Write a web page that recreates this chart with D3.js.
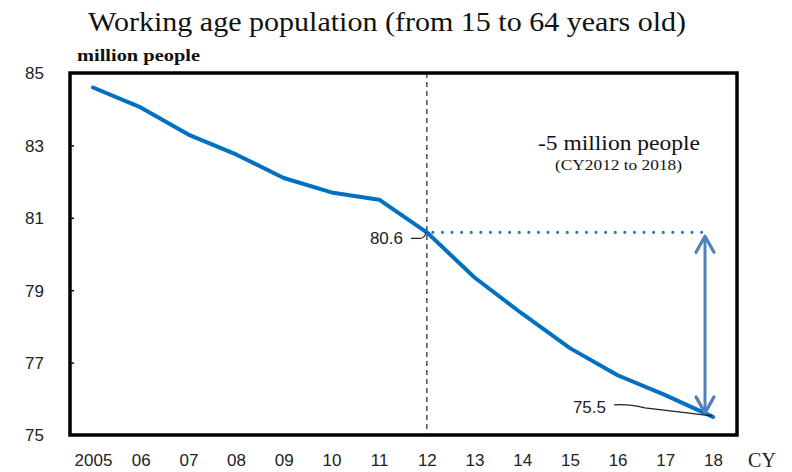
<!DOCTYPE html>
<html>
<head>
<meta charset="utf-8">
<script src="https://cdn.jsdelivr.net/npm/d3@7"></script>
<style>
  html, body { margin: 0; padding: 0; background: #fff; }
  svg { display: block; }
</style>
</head>
<body>
<svg id="chart" width="792" height="472"></svg>
<script>
// Working age population, Japan (million people)
const years = [2005, 2006, 2007, 2008, 2009, 2010, 2011, 2012, 2013, 2014, 2015, 2016, 2017, 2018];
const yearLabels = ["2005", "06", "07", "08", "09", "10", "11", "12", "13", "14", "15", "16", "17", "18"];
const population = [84.6, 84.05, 83.3, 82.75, 82.1, 81.7, 81.5, 80.6, 79.35, 78.35, 77.4, 76.65, 76.1, 75.5];
const yTicks = [75, 77, 79, 81, 83, 85];
const startYear = 2012, endYear = 2018;

const svg = d3.select("#chart");
const frame = { left: 70, right: 737, top: 73, bottom: 435 };

const x = d3.scalePoint().domain(years).range([93, 713]);
const y = d3.scaleLinear().domain([75, 85]).range([frame.bottom, frame.top]);

const serif = "'Liberation Serif', 'Times New Roman', serif";
const sans = "'Liberation Sans', Arial, sans-serif";

// Title
svg.append("text")
  .attr("x", 88).attr("y", 31)
  .attr("font-family", serif).attr("font-size", 28)
  .attr("textLength", 598).attr("lengthAdjust", "spacingAndGlyphs")
  .attr("fill", "#111")
  .text("Working age population (from 15 to 64 years old)");

svg.append("text")
  .attr("x", 77).attr("y", 61)
  .attr("font-family", serif).attr("font-size", 17).attr("font-weight", "bold")
  .attr("textLength", 123).attr("lengthAdjust", "spacingAndGlyphs")
  .attr("fill", "#111")
  .text("million people");

// Y axis: inward ticks, labels to the left of the frame
const yAxis = d3.axisLeft(y).tickValues(yTicks).tickSize(-4).tickPadding(26).tickFormat(d3.format("d"));
const gy = svg.append("g").attr("transform", `translate(${frame.left},0)`).call(yAxis);
gy.select(".domain").remove();
gy.selectAll(".tick line").attr("stroke", "#000").attr("stroke-width", 1.5);
gy.selectAll(".tick text")
  .attr("font-family", sans).attr("font-size", 17).attr("fill", "#222")
  .attr("dy", "0.35em");

// X axis: labels only
const xAxis = d3.axisBottom(x).tickSize(0).tickPadding(19).tickFormat((d, i) => yearLabels[i]);
const gx = svg.append("g").attr("transform", `translate(0,${frame.bottom})`).call(xAxis);
gx.select(".domain").remove();
gx.selectAll(".tick text")
  .attr("font-family", sans).attr("font-size", 17).attr("fill", "#222");

svg.append("text")
  .attr("x", 762).attr("y", 467)
  .attr("text-anchor", "middle")
  .attr("font-family", serif).attr("font-size", 20).attr("fill", "#222")
  .text("CY");

// Vertical dashed marker at 2012
svg.append("line")
  .attr("x1", x(startYear)).attr("x2", x(startYear))
  .attr("y1", frame.top).attr("y2", frame.bottom)
  .attr("stroke", "#222").attr("stroke-width", 1.2)
  .attr("stroke-dasharray", "5,4");

// Population line
const line = d3.line().x((d, i) => x(years[i])).y(d => y(d));
svg.append("path")
  .datum(population)
  .attr("d", line)
  .attr("fill", "none")
  .attr("stroke", "#0070C0")
  .attr("stroke-width", 4)
  .attr("stroke-linejoin", "round")
  .attr("stroke-linecap", "round");

const vStart = population[years.indexOf(startYear)];
const vEnd = population[years.indexOf(endYear)];
const arrowX = x(endYear) - 8;

// Dotted reference level from 2012
svg.append("line")
  .attr("x1", x(startYear) + 6).attr("x2", arrowX + 2)
  .attr("y1", y(vStart)).attr("y2", y(vStart))
  .attr("stroke", "#2E75B6").attr("stroke-width", 3.2)
  .attr("stroke-linecap", "round")
  .attr("stroke-dasharray", "0,9.6");

// Double-headed arrow showing the decline
const arrowColor = "#4F81BD";
const aTop = y(vStart) + 4, aBot = y(vEnd) - 4;
svg.append("line")
  .attr("x1", arrowX).attr("x2", arrowX)
  .attr("y1", aTop + 2).attr("y2", aBot - 2)
  .attr("stroke", arrowColor).attr("stroke-width", 3);
svg.append("path")
  .attr("d", `M${arrowX - 9},${aTop + 16} L${arrowX},${aTop} L${arrowX + 9},${aTop + 16}`)
  .attr("fill", "none").attr("stroke", arrowColor).attr("stroke-width", 3.2)
  .attr("stroke-linejoin", "round").attr("stroke-linecap", "round");
svg.append("path")
  .attr("d", `M${arrowX - 9},${aBot - 16} L${arrowX},${aBot} L${arrowX + 9},${aBot - 16}`)
  .attr("fill", "none").attr("stroke", arrowColor).attr("stroke-width", 3.2)
  .attr("stroke-linejoin", "round").attr("stroke-linecap", "round");

// Value callouts
svg.append("text")
  .attr("x", 403).attr("y", y(vStart) + 12)
  .attr("text-anchor", "end")
  .attr("font-family", sans).attr("font-size", 17).attr("fill", "#222")
  .text(vStart.toFixed(1));
svg.append("path")
  .attr("d", `M411,${y(vStart) + 6} L420,${y(vStart) + 6} Q425,${y(vStart) + 6} ${x(startYear) - 1},${y(vStart)}`)
  .attr("fill", "none").attr("stroke", "#222").attr("stroke-width", 1.2);

svg.append("text")
  .attr("x", 606).attr("y", y(vEnd) - 4)
  .attr("text-anchor", "end")
  .attr("font-family", sans).attr("font-size", 17).attr("fill", "#222")
  .text(vEnd.toFixed(1));
svg.append("path")
  .attr("d", `M614,${y(vEnd) - 12} Q628,${y(vEnd) - 13} 645,${y(vEnd) - 9} L${x(endYear) - 1},${y(vEnd) - 1}`)
  .attr("fill", "none").attr("stroke", "#222").attr("stroke-width", 1.2);

// Change annotation
svg.append("text")
  .attr("x", 538).attr("y", 150)
  .attr("font-family", serif).attr("font-size", 21).attr("fill", "#111")
  .attr("textLength", 162).attr("lengthAdjust", "spacingAndGlyphs")
  .text(`-${Math.round(vStart - vEnd)} million people`);
svg.append("text")
  .attr("x", 555).attr("y", 170)
  .attr("font-family", serif).attr("font-size", 14).attr("fill", "#111")
  .attr("textLength", 127).attr("lengthAdjust", "spacingAndGlyphs")
  .text(`(CY${startYear} to ${endYear})`);

// Plot frame
svg.append("rect")
  .attr("x", frame.left).attr("y", frame.top)
  .attr("width", frame.right - frame.left).attr("height", frame.bottom - frame.top)
  .attr("fill", "none").attr("stroke", "#000").attr("stroke-width", 3.5);
</script>
</body>
</html>
